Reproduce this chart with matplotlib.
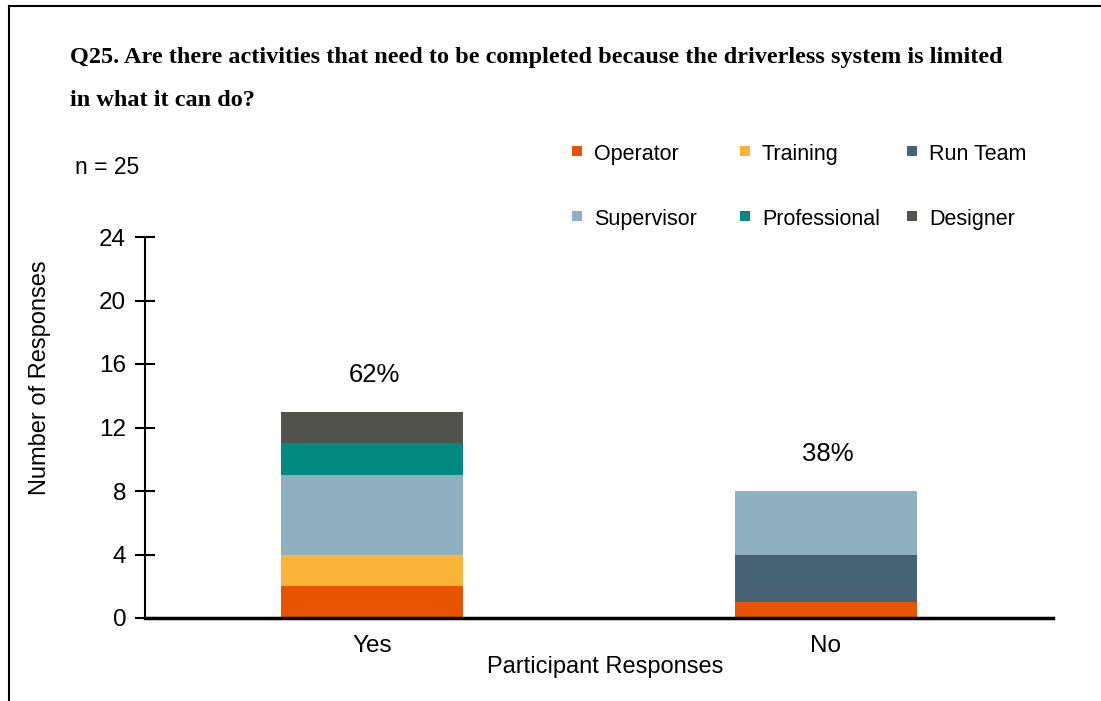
import numpy as np
import matplotlib.pyplot as plt
from matplotlib.patches import Rectangle
from matplotlib.lines import Line2D

categories = ['Yes', 'No']
roles = ['Operator', 'Training', 'Run Team', 'Supervisor', 'Professional', 'Designer']
operator = [2, 1]
training = [2, 0]
run_team = [0, 3]
supervisor = [5, 4]
professional = [2, 0]
designer = [2, 0]
colors = ['#E65400', '#F9B439', '#486375', '#8FB0C1', '#028A80', '#52534C']

series = [operator, training, run_team, supervisor, professional, designer]

W, H = 1101, 701
fig = plt.figure(figsize=(W / 100, H / 100), dpi=100)
sans = 'Liberation Sans'


def fx(px):
    return px / W


def fy(py):
    return 1 - py / H


# marco de la figura (solo arriba e izquierda)
fig.add_artist(Line2D([fx(9), 1.0], [fy(6), fy(6)], color='black', lw=1.5,
                      transform=fig.transFigure))
fig.add_artist(Line2D([fx(9), fx(9)], [0, fy(6)], color='black', lw=1.5,
                      transform=fig.transFigure))

ax = fig.add_axes([fx(145), fy(618), fx(1053 - 145), (618 - 237) / H])

x = np.arange(len(categories))
bottom = np.zeros(len(categories))
for name, vals, c in zip(roles, series, colors):
    ax.bar(x, vals, width=0.4, bottom=bottom, color=c, zorder=2)
    bottom += np.array(vals)

total = bottom.sum()
for xi, t in zip(x, bottom):
    ax.text(xi + 0.005, t + 2.3, f'{t / total * 100:.0f}%', ha='center', va='center',
            fontsize=18.5, family=sans)

ax.set_xlim(-0.5, 1.5)
ax.set_ylim(0, 24)
ax.set_yticks(np.arange(0, 25, 4))
ax.set_xticks(x)
ax.set_xticklabels(categories, family=sans, fontsize=17.5)
for lab in ax.get_yticklabels():
    lab.set_family(sans)
    lab.set_fontsize(17.5)
ax.tick_params(axis='y', direction='inout', length=15, width=1.5, pad=6)
ax.tick_params(axis='x', length=0, pad=12)
ax.spines['top'].set_visible(False)
ax.spines['right'].set_visible(False)
ax.spines['left'].set_linewidth(1.5)
ax.spines['bottom'].set_linewidth(2.5)
ax.spines['bottom'].set_zorder(3)

fig.text(fx(40), fy(378), 'Number of Responses', family=sans, fontsize=17,
         rotation=90, ha='center', va='center')
fig.text(fx(605), fy(667), 'Participant Responses', family=sans, fontsize=17,
         ha='center', va='center')

# leyenda: 3 columnas de ancho fijo, 2 filas
col_x = [572, 740, 907]
row_y = [151, 216]
for i, (name, c) in enumerate(zip(roles, colors)):
    px = col_x[i % 3]
    py = row_y[i // 3]
    fig.add_artist(Rectangle((fx(px), fy(py + 5)), fx(10), 10 / H, facecolor=c,
                             transform=fig.transFigure))
    fig.text(fx(px + 22), fy(py + 1), name, family=sans, fontsize=15.5,
             va='center_baseline')

title_font = dict(family='Liberation Serif', weight='bold', fontsize=17.5, va='center')
fig.text(fx(70), fy(57),
         'Q25. Are there activities that need to be completed because the driverless system is limited',
         **title_font)
fig.text(fx(70), fy(100), 'in what it can do?', **title_font)
fig.text(fx(75), fy(167), 'n = 25', family=sans, fontsize=16.5, va='center')

fig.savefig('out.png', dpi=100)
